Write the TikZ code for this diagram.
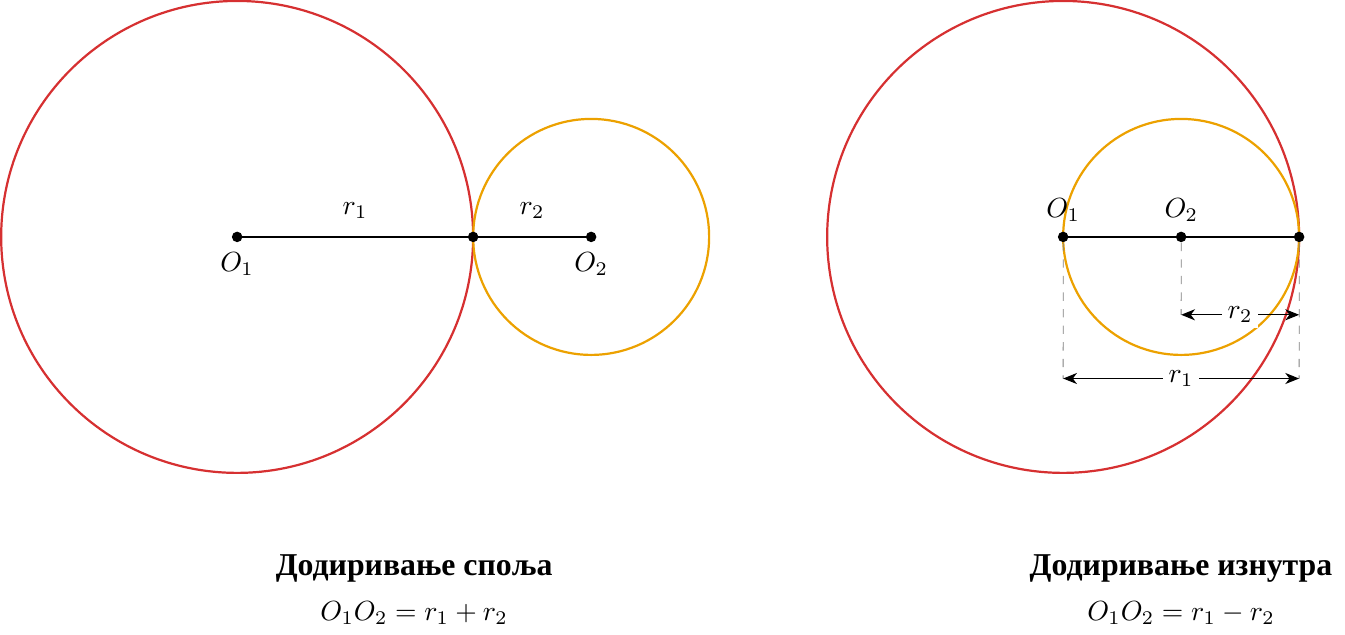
\documentclass[tikz,border=0pt]{standalone}
\usepackage{fontspec}
\newfontfamily\cyrfont{Liberation Serif}
\usetikzlibrary{arrows.meta}
\definecolor{bigred}{RGB}{214,48,49}
\definecolor{smallorange}{RGB}{236,161,0}
\begin{document}
\begin{tikzpicture}[scale=1.5]
\tikzset{
  bigcirc/.style={draw=bigred, line width=0.8pt},
  smallcirc/.style={draw=smallorange, line width=0.8pt},
  seg/.style={line width=0.8pt},
  dot/.style={circle, fill=black, inner sep=0pt, minimum size=3.8pt},
  dimline/.style={<->, >={Stealth[length=5pt,width=4pt,inset=1.5pt]}, line width=0.45pt},
  helper/.style={dashed, gray, line width=0.3pt},
  lbl/.style={fill=white, inner sep=2pt},
  title/.style={font=\cyrfont\bfseries\fontsize{11.5pt}{13pt}\selectfont}
}
\useasboundingbox (-2.01,-3.373) rectangle (9.39,2.008);
% ---- left: external tangency
\coordinate (A1) at (0,0);
\coordinate (A2) at (3,0);
\coordinate (AT) at (2,0);
\draw[bigcirc] (A1) circle (2);
\draw[smallcirc] (A2) circle (1);
\draw[seg] (A1) -- node[above=3pt] {$r_1$} (AT) -- node[above=3pt] {$r_2$} (A2);
\node[dot] (a1) at (A1) {};
\node[dot] (a2) at (A2) {};
\node[dot] (at) at (AT) {};
\node[below=2pt] (la1) at (a1) {$O_1$};
\node[below=2pt] (la2) at (a2) {$O_2$};
% ---- right: internal tangency
\coordinate (B1) at (7,0);
\coordinate (B2) at (8,0);
\coordinate (BT) at (9,0);
\draw[bigcirc] (B1) circle (2);
\draw[smallcirc] (B2) circle (1);
\draw[seg] (B1) -- (B2) -- (BT);
\node[dot] (b1) at (B1) {};
\node[dot] (b2) at (B2) {};
\node[dot] (bt) at (BT) {};
\node[above=2pt] (lb1) at (b1) {$O_1$};
\node[above=2pt] (lb2) at (b2) {$O_2$};
\coordinate (d2a) at (8,-0.66);
\coordinate (d2b) at (9,-0.66);
\coordinate (d1a) at (7,-1.2);
\coordinate (d1b) at (9,-1.2);
\draw[helper] (b1) -- (d1a);
\draw[helper] (b2) -- (d2a);
\draw[helper] (bt) -- (d1b);
\draw[dimline] (d2a) -- node[lbl] {$r_2$} (d2b);
\draw[dimline] (d1a) -- node[lbl] {$r_1$} (d1b);
% ---- captions
\node[title] (t1) at (1.5,-2.81) {Додиривање споља};
\node (f1) at (1.5,-3.19) {$O_1O_2 = r_1 + r_2$};
\node[title] (t2) at (8,-2.81) {Додиривање изнутра};
\node (f2) at (8,-3.19) {$O_1O_2 = r_1 - r_2$};
\end{tikzpicture}
\end{document}
